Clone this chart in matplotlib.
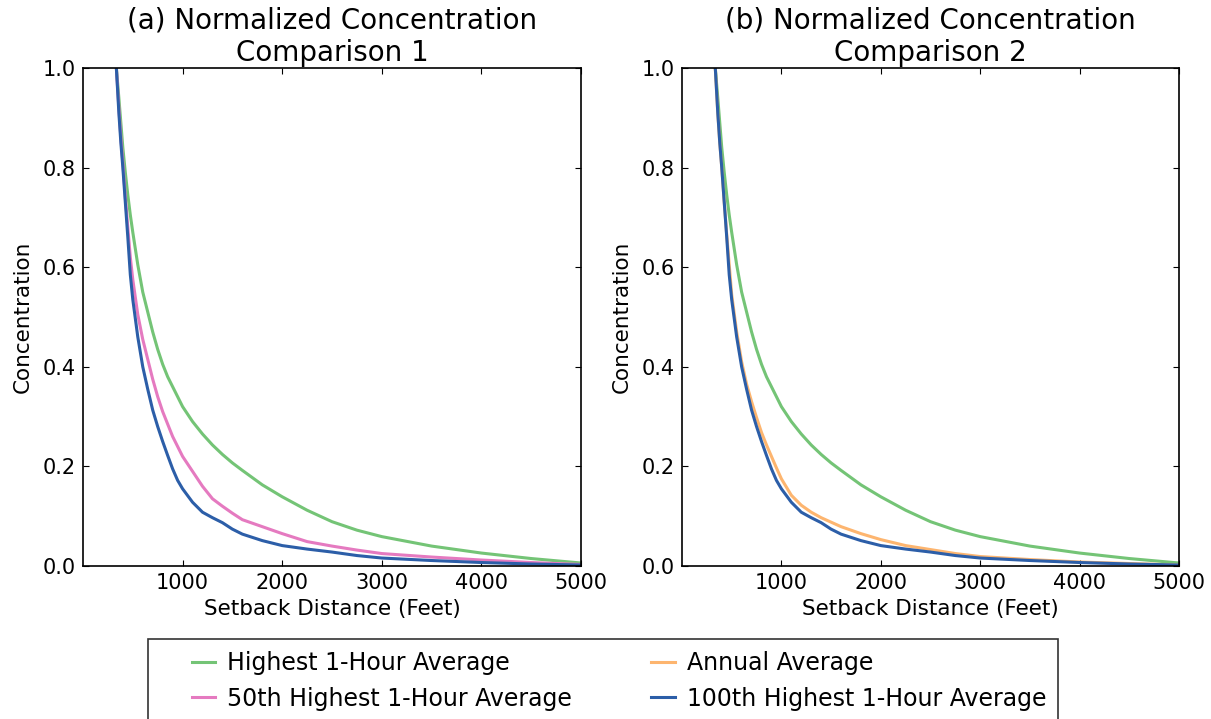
#!/usr/bin/env python3
"""Normalized concentration vs setback distance, two comparison panels."""

import matplotlib
matplotlib.use("Agg")
import matplotlib.pyplot as plt
import numpy as np
from matplotlib.legend_handler import HandlerLine2D

# setback distance (feet) at which each curve was read
distance = [335, 360, 380, 400, 425, 450, 475, 500, 550, 600, 650, 700,
            750, 800, 850, 900, 950, 1000, 1100, 1200, 1300, 1400, 1500,
            1600, 1800, 2000, 2250, 2500, 2750, 3000, 3500, 4000, 4500, 5000]

highest_1hr = [1.0, 0.94, 0.89, 0.84, 0.79, 0.745, 0.705, 0.67, 0.605,
               0.55, 0.51, 0.47, 0.435, 0.405, 0.38, 0.36, 0.34, 0.32,
               0.29, 0.265, 0.243, 0.224, 0.207, 0.192, 0.163, 0.139,
               0.112, 0.089, 0.072, 0.059, 0.04, 0.026, 0.015, 0.006]
highest_50th = [1.0, 0.92, 0.86, 0.81, 0.74, 0.68, 0.62, 0.575, 0.505,
                0.455, 0.415, 0.375, 0.34, 0.31, 0.285, 0.26, 0.24, 0.22,
                0.19, 0.16, 0.135, 0.12, 0.106, 0.093, 0.079, 0.065, 0.049,
                0.040, 0.032, 0.025, 0.018, 0.012, 0.007, 0.003]
annual_avg = [1.0, 0.91, 0.85, 0.80, 0.73, 0.665, 0.605, 0.545, 0.47, 0.41,
              0.365, 0.33, 0.298, 0.268, 0.243, 0.22, 0.197, 0.175, 0.142,
              0.122, 0.108, 0.097, 0.088, 0.079, 0.065, 0.053, 0.041, 0.033,
              0.025, 0.019, 0.013, 0.008, 0.005, 0.002]
highest_100th = [1.0, 0.91, 0.85, 0.80, 0.73, 0.66, 0.585, 0.535, 0.46,
                 0.40, 0.355, 0.313, 0.28, 0.25, 0.222, 0.195, 0.172, 0.155,
                 0.128, 0.108, 0.097, 0.087, 0.074, 0.064, 0.051, 0.041,
                 0.034, 0.028, 0.021, 0.016, 0.011, 0.007, 0.004, 0.002]

x_ticks = [1000, 2000, 3000, 4000, 5000]
y_ticks = [0.0, 0.2, 0.4, 0.6, 0.8, 1.0]

GREEN = "#74c476"
PINK = "#e57ac0"
ORANGE = "#fdb56f"
BLUE = "#2c5ea8"
W, H = 1211, 719


class ShortLine(HandlerLine2D):
    # draw the legend line only on the right part of the handle box
    def get_xdata(self, legend, xdescent, ydescent, width, height, fontsize):
        x0 = -xdescent
        xdata = np.array([x0 + 0.58 * width, x0 + width])
        return xdata, xdata


def style_axis(axis, title):
    axis.set_xlim(0, 5000)
    axis.set_ylim(0, 1.0)
    axis.set_xticks(x_ticks)
    axis.set_yticks(y_ticks)
    axis.set_yticklabels([f"{v:.1f}" for v in y_ticks])
    axis.tick_params(direction="in", top=True, right=True, length=4.5,
                     labelsize=15, pad=5)
    axis.set_xlabel("Setback Distance (Feet)", fontsize=15.5, labelpad=4)
    axis.set_ylabel("Concentration", fontsize=15.5, labelpad=7)
    axis.set_title(title, fontsize=20, pad=5, linespacing=1.2)
    for spine in axis.spines.values():
        spine.set_linewidth(1.2)


fig = plt.figure(figsize=(W / 100, H / 100), dpi=100)
left = fig.add_axes([83 / W, (H - 566) / H, 498 / W, 498 / H])
right = fig.add_axes([682 / W, (H - 566) / H, 497 / W, 498 / H])

lw = 2.2
h_green, = left.plot(distance, highest_1hr, color=GREEN, lw=lw)
h_pink, = left.plot(distance, highest_50th, color=PINK, lw=lw)
h_blue, = left.plot(distance, highest_100th, color=BLUE, lw=lw)
style_axis(left, "(a) Normalized Concentration\nComparison 1")

right.plot(distance, highest_1hr, color=GREEN, lw=lw)
h_orange, = right.plot(distance, annual_avg, color=ORANGE, lw=lw)
right.plot(distance, highest_100th, color=BLUE, lw=lw)
style_axis(right, "(b) Normalized Concentration\nComparison 2")

handles = [h_green, h_pink, h_orange, h_blue]
labels = ["Highest 1-Hour Average", "50th Highest 1-Hour Average",
          "Annual Average", "100th Highest 1-Hour Average"]
leg = fig.legend(handles, labels, ncol=2, fontsize=17,
                 loc="upper center", bbox_to_anchor=(603 / W, 1 - 639 / H),
                 borderaxespad=0, frameon=True, fancybox=False,
                 edgecolor="black", handlelength=2.35, handletextpad=0.5,
                 columnspacing=2.0, borderpad=0.5, labelspacing=0.5,
                 handler_map={h: ShortLine() for h in handles})
leg.get_frame().set_linewidth(1.2)

fig.savefig("out.png", dpi=100)
